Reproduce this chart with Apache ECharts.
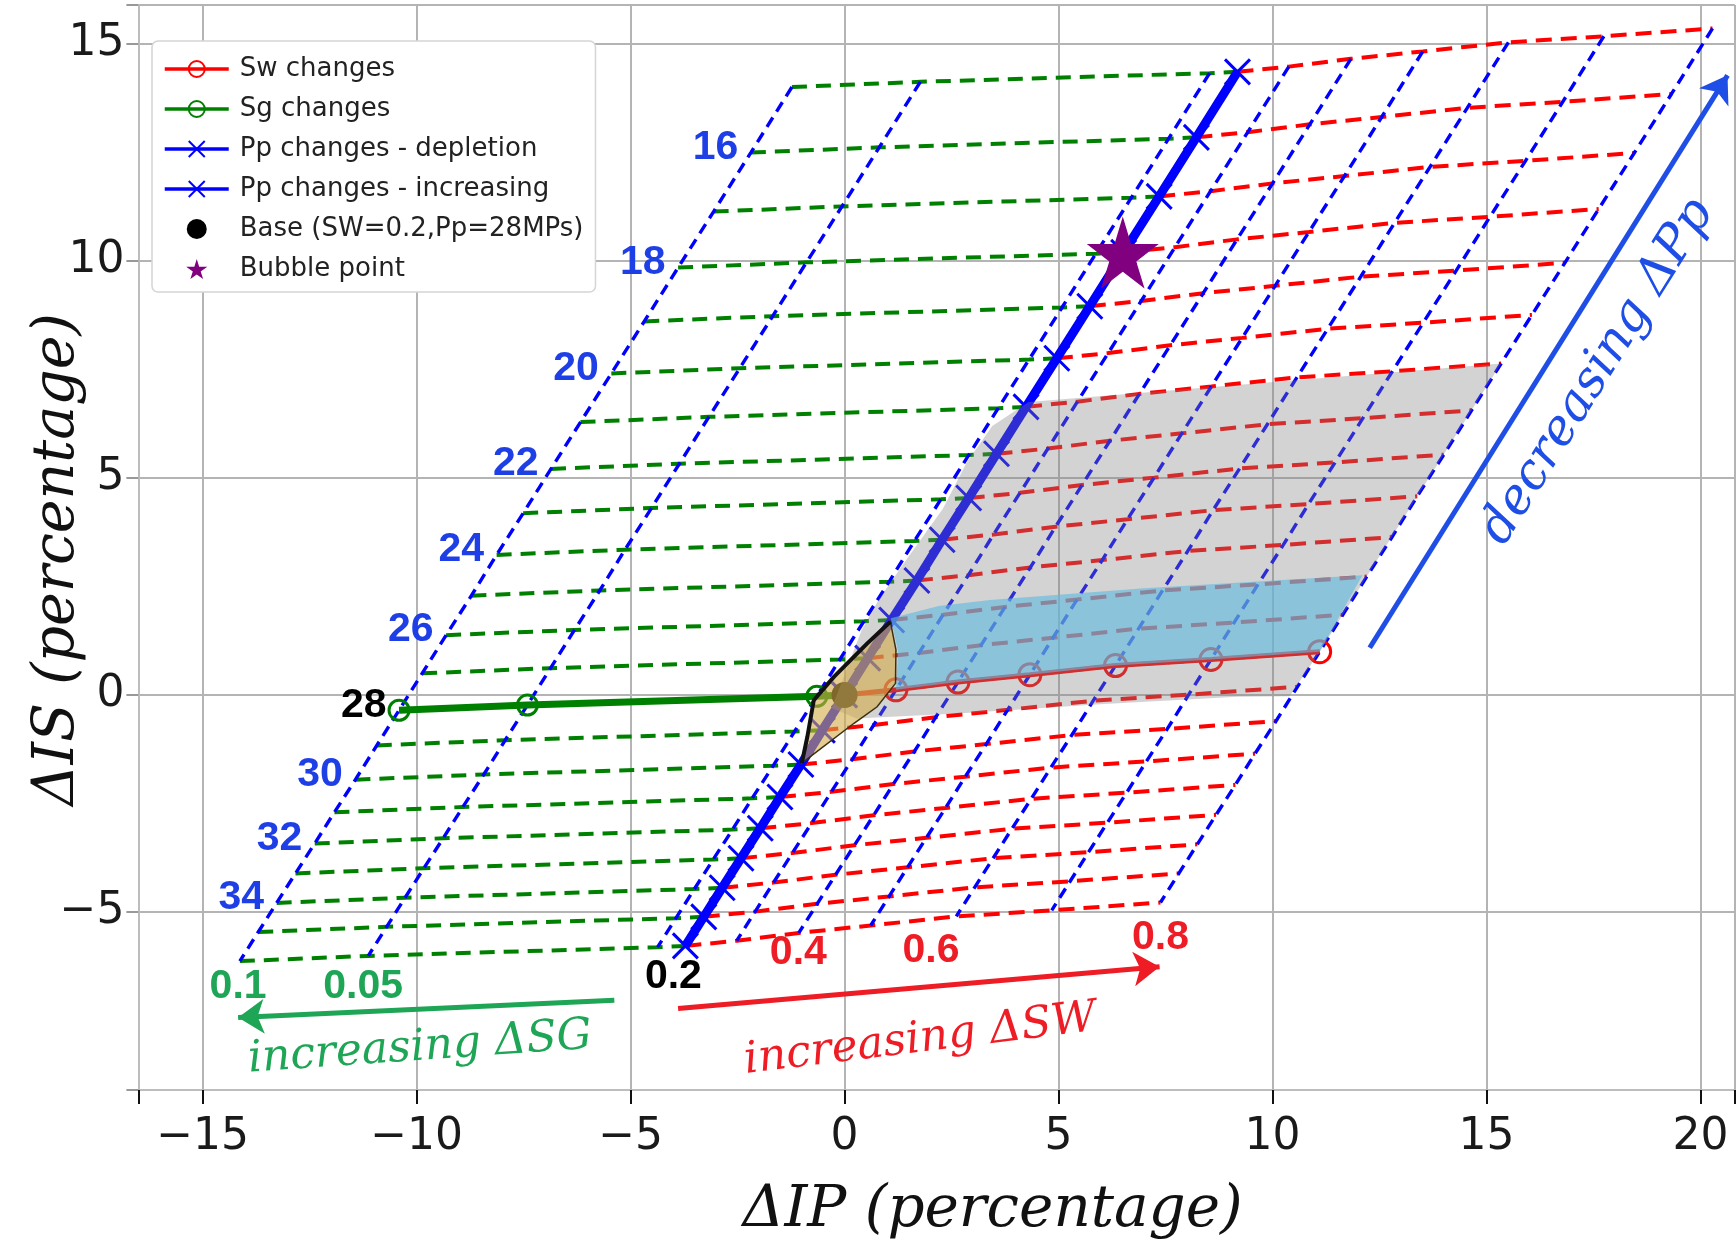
<!DOCTYPE html>
<html>
<head>
<meta charset="utf-8">
<script src="https://cdn.jsdelivr.net/npm/echarts@6/dist/echarts.min.js"></script>
<style>
  html, body { margin: 0; padding: 0; background: #fff; }
  #container { width: 1736px; height: 1251px; }
</style>
</head>
<body>
<div id="container"></div>
<script>
var dom = document.getElementById('container');
var myChart = echarts.init(dom, null, { renderer: 'canvas' });

// pore pressure path of the base column (Sw=0.2, Sg=0), one point per MPa
var ppLevels = [15, 16, 17, 18, 19, 20, 21, 22, 23, 24, 25, 26, 27, 28, 29, 30, 31, 32, 33, 34, 35, 36];
var ppIP = [9.18, 8.22, 7.35, 6.52, 5.73, 4.96, 4.24, 3.55, 2.90, 2.28, 1.69, 1.10, 0.54, 0, -0.52, -1.02, -1.51, -1.97, -2.42, -2.86, -3.29, -3.72];
var ppIS = [14.36, 12.85, 11.49, 10.20, 8.96, 7.76, 6.64, 5.56, 4.54, 3.58, 2.64, 1.73, 0.85, 0, -0.81, -1.60, -2.35, -3.07, -3.76, -4.44, -5.11, -5.78];

// gas saturation columns, shift from the base column
var sgLevels = [0.01, 0.05, 0.1];
var sgIP = [-0.65, -7.41, -10.41];
var sgIS = [-0.03, -0.23, -0.35];

// water saturation columns, shift from the base column
var swLevels = [0.3, 0.4, 0.5, 0.6, 0.7, 0.8];
var swIP = [1.2, 2.65, 4.33, 6.33, 8.56, 11.1];
var swIS = [0.12, 0.3, 0.47, 0.68, 0.82, 1.0];

var basePp = 28;
var bubblePoint = [6.5, 10.2];

// tag texts
var ppTags = [16, 18, 20, 22, 24, 26, 28, 30, 32, 34];
var swTags = ['0.2', '0.4', '0.6', '0.8'];
var swTagAt = [[-4.0, -6.49], [-1.08, -5.94], [2.02, -5.9], [7.38, -5.58]];
var sgTags = ['0.1', '0.05'];
var sgTagAt = [[-14.17, -6.72], [-11.25, -6.72]];

// arrows
var arrowPp = [[12.27, 1.09], [20.63, 14.28]];
var arrowSw = [[-3.89, -7.22], [7.36, -6.26]];
var arrowSg = [[-5.38, -7.03], [-14.17, -7.43]];

// shaded zones
var grayZone = [[4.3, 6.75], [15.34, 7.64], [12.2, 2.73], [11.1, 1.0], [10.4, -0.03], [9.18, -0.04], [5.96, -0.21],
  [2.74, -0.42], [0.28, -0.54], [-0.3, -0.3], [0.4, 1.5], [0.8, 2.2], [1.5, 3.2], [2.3, 4.3], [2.85, 5.35], [3.45, 6.2]];
var blueZone = [[1.08, 1.77], [2.2, 2.05], [3.4, 2.19], [7.0, 2.46], [12.1, 2.76], [11.1, 1.0], [8.56, 0.82],
  [6.33, 0.68], [4.33, 0.47], [2.65, 0.3], [1.2, 0.12], [1.25, 1.0]];
var baseZone = [[1.07, 1.69], [1.2, 1.04], [1.19, 0.27], [0.76, -0.27], [0.22, -0.65], [-1.0, -1.57],
  [-0.87, -0.96], [-0.72, -0.12], [-0.25, 0.42], [0.53, 1.19]];
var baseZoneEdge = [[-1.0, -1.57], [-0.87, -0.96], [-0.72, -0.12], [-0.25, 0.42], [0.53, 1.19], [1.07, 1.69]];

var baseIdx = ppLevels.indexOf(basePp);

function at(i, dIP, dIS) {
  return [+(ppIP[i] + dIP).toFixed(3), +(ppIS[i] + dIS).toFixed(3)];
}

function tickText(v) {
  if (Math.abs(v - Math.round(v / 5) * 5) > 1e-6) return '';
  return v < 0 ? '\u2212' + (-v) : String(v);
}

var series = [];

function dashed(data, color, width, dash) {
  series.push({
    type: 'line', silent: true, z: 2, symbol: 'none', animation: false,
    lineStyle: { color: color, width: width, type: dash },
    data: data
  });
}

// green rows (constant Pp, gas side)
ppLevels.forEach(function (p, i) {
  var row = [];
  for (var k = sgLevels.length - 1; k >= 0; k--) row.push(at(i, sgIP[k], sgIS[k]));
  row.push([ppIP[i], ppIS[i]]);
  dashed(row, '#008000', 4, [15, 9]);
});
// red rows (constant Pp, water side)
ppLevels.forEach(function (p, i) {
  var row = [[ppIP[i], ppIS[i]]];
  for (var k = 0; k < swLevels.length; k++) row.push(at(i, swIP[k], swIS[k]));
  dashed(row, '#ff0000', 4, [16, 9]);
});
// blue columns (constant saturation, varying Pp)
sgLevels.forEach(function (s, k) {
  dashed(ppLevels.map(function (p, i) { return at(i, sgIP[k], sgIS[k]); }), '#0000ff', 3.4, [11, 7]);
});
swLevels.forEach(function (s, k) {
  dashed(ppLevels.map(function (p, i) { return at(i, swIP[k], swIS[k]); }), '#0000ff', 3.4, [11, 7]);
});

var cross = 'path://M0,0L20,20M20,0L0,20';
var star = 'path://M50,0L61,35L98,35L68,57L79,91L50,70L21,91L32,57L2,35L39,35Z';

var depletion = [];
for (var i = baseIdx; i >= 0; i--) depletion.push([ppIP[i], ppIS[i]]);
var increasing = [];
for (var j = baseIdx; j < ppLevels.length; j++) increasing.push([ppIP[j], ppIS[j]]);

series.push({
  name: 'Pp changes - depletion', type: 'line', z: 2, animation: false,
  symbol: cross, symbolSize: 25,
  lineStyle: { color: '#0000ff', width: 9 },
  itemStyle: { color: '#0000ff', borderColor: '#0000ff', borderWidth: 3 },
  data: depletion
});
series.push({
  name: 'Pp changes - increasing', type: 'line', z: 2, animation: false,
  symbol: cross, symbolSize: 25,
  lineStyle: { color: '#0000ff', width: 9 },
  itemStyle: { color: '#0000ff', borderColor: '#0000ff', borderWidth: 3 },
  data: increasing
});

var sgLine = [];
for (var a = sgLevels.length - 1; a >= 0; a--) sgLine.push(at(baseIdx, sgIP[a], sgIS[a]));
sgLine.push([ppIP[baseIdx], ppIS[baseIdx]]);
series.push({
  name: 'Sg changes', type: 'line', z: 2, animation: false,
  symbol: 'circle', symbolSize: 20,
  lineStyle: { color: '#008000', width: 7 },
  itemStyle: { color: 'rgba(255,255,255,0)', borderColor: '#008000', borderWidth: 3 },
  data: sgLine
});

var swLine = [[ppIP[baseIdx], ppIS[baseIdx]]];
for (var b = 0; b < swLevels.length; b++) swLine.push(at(baseIdx, swIP[b], swIS[b]));
series.push({
  name: 'Sw changes', type: 'line', z: 2, animation: false,
  symbol: 'circle', symbolSize: 22,
  lineStyle: { color: '#ff0000', width: 5 },
  itemStyle: { color: 'rgba(255,255,255,0)', borderColor: '#ff0000', borderWidth: 3 },
  data: swLine
});

series.push({
  name: 'Base (SW=0.2,Pp=28MPs)', type: 'scatter', z: 2, animation: false,
  symbol: 'circle', symbolSize: 26, itemStyle: { color: '#000', opacity: 1 },
  data: [[ppIP[baseIdx], ppIS[baseIdx]]]
});
series.push({
  name: 'Bubble point', type: 'scatter', z: 2, animation: false,
  symbol: star, symbolSize: 72, itemStyle: { color: '#800080', opacity: 1 },
  data: [bubblePoint]
});

function zone(points, fill, stroke, width) {
  series.push({
    type: 'custom', silent: true, z: 3, animation: false,
    data: [points[0]],
    renderItem: function (params, api) {
      return {
        type: 'polygon',
        shape: { points: points.map(function (p) { return api.coord(p); }) },
        style: { fill: fill, stroke: stroke || null, lineWidth: width || 0 }
      };
    }
  });
}
zone(grayZone, 'rgba(128,128,128,0.35)');
zone(blueZone, 'rgba(95,185,222,0.62)');
zone(baseZone, 'rgba(212,170,70,0.6)', '#3a3010', 1.5);
series.push({
  type: 'line', silent: true, z: 4, symbol: 'none', animation: false,
  lineStyle: { color: '#111', width: 4 }, data: baseZoneEdge
});

function arrow(coords, color) {
  series.push({
    type: 'lines', coordinateSystem: 'cartesian2d', silent: true, z: 5, animation: false,
    symbol: ['none', 'arrow'], symbolSize: 26,
    lineStyle: { color: color, width: 5, opacity: 1 },
    data: [{ coords: coords }]
  });
}
arrow(arrowPp, '#1e4ee6');
arrow(arrowSw, '#ee1c25');
arrow(arrowSg, '#1ea555');

function tags(points, texts, label) {
  series.push({
    type: 'scatter', silent: true, z: 6, animation: false,
    symbolSize: 1, itemStyle: { color: 'rgba(0,0,0,0)', opacity: 1 },
    label: Object.assign({ show: true }, label),
    data: points.map(function (p, k) {
      return { value: p, label: { formatter: String(texts[k]) } };
    })
  });
}

var ppTagPoints = ppTags.map(function (p) {
  var i = ppLevels.indexOf(p);
  return at(i, sgIP[2], sgIS[2]);
});
var boldTag = { fontFamily: 'Liberation Sans', fontWeight: 'bold', fontSize: 41 };
ppTags.forEach(function (p, k) {
  tags([ppTagPoints[k]], [p], Object.assign({
    position: 'left', distance: 12, offset: [0, -5],
    color: p === basePp ? '#000' : '#1f3fe6'
  }, boldTag));
});
tags(swTagAt.slice(0, 1), swTags.slice(0, 1), Object.assign({ position: 'inside', color: '#000' }, boldTag));
tags(swTagAt.slice(1), swTags.slice(1), Object.assign({ position: 'inside', color: '#ee1c25' }, boldTag));
tags(sgTagAt, sgTags, Object.assign({ position: 'inside', color: '#1ea555' }, boldTag));

var noteFont = { fontFamily: 'DejaVu Serif', fontStyle: 'italic', fontSize: 44 };
tags([[17.6, 7.45]], ['decreasing \u0394Pp'], Object.assign({ position: 'inside', rotate: 58, color: '#1e4ee6' }, noteFont, { fontSize: 50 }));
tags([[1.77, -7.95]], ['increasing \u0394SW'], Object.assign({ position: 'inside', rotate: 7, color: '#ee1c25' }, noteFont));
tags([[-9.92, -8.14]], ['increasing \u0394SG'], Object.assign({ position: 'inside', rotate: 4, color: '#1ea555' }, noteFont));

option = {
  backgroundColor: '#fff',
  animation: false,
  grid: { left: 138.4, right: 1.2, top: 5, bottom: 161, containLabel: false, outerBoundsMode: 'none' },
  legend: {
    data: ['Sw changes', 'Sg changes', 'Pp changes - depletion', 'Pp changes - increasing', 'Base (SW=0.2,Pp=28MPs)', 'Bubble point'],
    orient: 'vertical', left: 152, top: 41, z: 20,
    padding: [15, 12, 10, 11],
    itemWidth: 64, itemHeight: 20, itemGap: 14,
    backgroundColor: '#fff', borderColor: '#d5d5d5', borderWidth: 1.5, borderRadius: 6,
    selectedMode: false,
    lineStyle: { width: 3.5 },
    textStyle: { fontFamily: 'DejaVu Sans', fontSize: 26, color: '#222', padding: [0, 0, 0, 6] }
  },
  xAxis: {
    type: 'value', min: -16.5, max: 20.8, splitNumber: 8, minInterval: 5, maxInterval: 5,
    axisLine: { show: true, onZero: false, lineStyle: { color: '#bdbdbd', width: 2 } },
    axisTick: { show: true, length: 14, lineStyle: { color: '#111', width: 2 } },
    axisLabel: { fontFamily: 'DejaVu Sans', fontSize: 44, color: '#1a1a1a', margin: 26, formatter: tickText },
    splitLine: { show: true, lineStyle: { color: '#b4b4b4', width: 2 } },
    name: '\u0394IP (percentage)', nameLocation: 'middle', nameGap: 92,
    nameTextStyle: { fontFamily: 'DejaVu Serif', fontStyle: 'italic', fontSize: 58, color: '#111', padding: [0, 0, 0, 112] }
  },
  yAxis: {
    type: 'value', min: -9.1, max: 15.9, splitNumber: 5, minInterval: 5, maxInterval: 5,
    axisLine: { show: true, onZero: false, lineStyle: { color: '#bdbdbd', width: 2 } },
    axisTick: { show: true, length: 12, lineStyle: { color: '#999', width: 2 } },
    axisLabel: { fontFamily: 'DejaVu Sans', fontSize: 44, color: '#1a1a1a', margin: 14, formatter: tickText },
    splitLine: { show: true, lineStyle: { color: '#b4b4b4', width: 2 } },
    name: '\u0394IS (percentage)', nameLocation: 'middle', nameGap: 52, nameRotate: 90, nameMoveOverlap: false,
    nameTextStyle: { fontFamily: 'DejaVu Serif', fontStyle: 'italic', fontSize: 57, color: '#111', padding: [0, 24, 0, 0] }
  },
  series: series
};

myChart.setOption(option);
window.addEventListener('resize', myChart.resize);
</script>
</body>
</html>
